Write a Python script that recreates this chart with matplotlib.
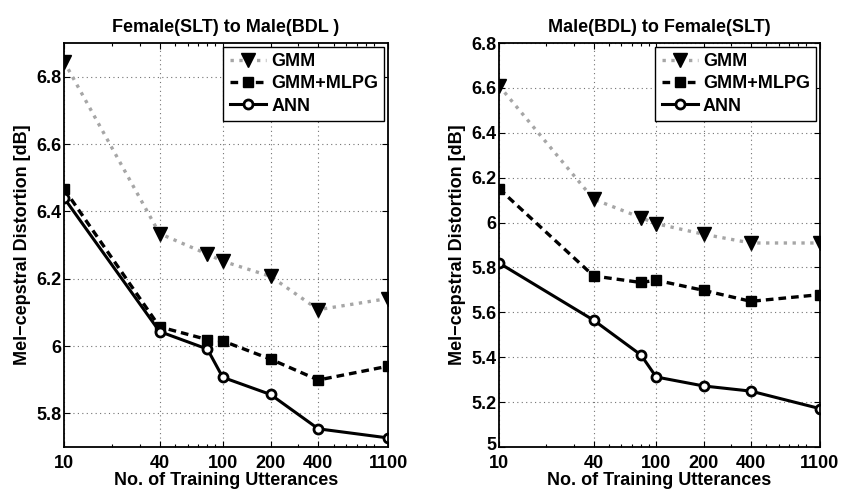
import matplotlib
matplotlib.use("Agg")
import matplotlib.pyplot as plt
from matplotlib.ticker import FixedLocator, NullFormatter, LogLocator, FormatStrFormatter
from matplotlib.transforms import ScaledTranslation

# number of training utterances
n_utt = [10, 40, 80, 100, 200, 400, 1100]
xtick_vals = [10, 40, 100, 200, 400, 1100]
xtick_labels = ["10", "40", "100", "200", "400", "1100"]

# Female(SLT) -> Male(BDL)
f2m_gmm = [6.845, 6.334, 6.273, 6.252, 6.207, 6.108, 6.141]
f2m_mlpg = [6.467, 6.057, 6.019, 6.015, 5.961, 5.899, 5.940]
f2m_ann = [6.440, 6.043, 5.991, 5.907, 5.856, 5.754, 5.727]

# Male(BDL) -> Female(SLT)
m2f_gmm = [6.610, 6.104, 6.022, 5.995, 5.948, 5.909, 5.909]
m2f_mlpg = [6.151, 5.762, 5.733, 5.743, 5.698, 5.649, 5.679]
m2f_ann = [5.820, 5.565, 5.410, 5.312, 5.272, 5.249, 5.171]

plt.rcParams["font.family"] = ["Liberation Sans", "DejaVu Sans"]
plt.rcParams["font.weight"] = "bold"
plt.rcParams["font.size"] = 13

fig = plt.figure(figsize=(8.41, 4.91), dpi=100)
ax1 = fig.add_axes([0.0761, 0.0896, 0.3853, 0.8228])
ax2 = fig.add_axes([0.5933, 0.0896, 0.3817, 0.8228])


def draw(ax, gmm, mlpg, ann, title, ylim, yticks):
    ax.plot(n_utt, gmm, linestyle=":", color="0.65", linewidth=2.4,
            marker="v", markersize=10, markerfacecolor="k", markeredgecolor="k",
            label="GMM")
    ax.plot(n_utt, mlpg, color="k", linewidth=2.4, dashes=(2.3, 1.5),
            marker="s", markersize=7.5, markerfacecolor="k", markeredgecolor="k",
            label="GMM+MLPG")
    ax.plot(n_utt, ann, color="k", linewidth=2.2, linestyle="-",
            marker="o", markersize=6.5, markerfacecolor="white", markeredgecolor="k",
            markeredgewidth=2.0, label="ANN")
    ax.set_xscale("log")
    ax.set_xlim(10, 1100)
    ax.set_ylim(*ylim)
    ax.xaxis.set_major_locator(FixedLocator(xtick_vals))
    ax.set_xticklabels(xtick_labels)
    ax.xaxis.set_minor_locator(LogLocator(base=10, subs=range(2, 10)))
    ax.xaxis.set_minor_formatter(NullFormatter())
    ax.set_yticks(yticks)
    ax.yaxis.set_major_formatter(FormatStrFormatter("%g"))
    ax.tick_params(which="both", direction="in", top=True, right=True,
                   labelsize=13)
    ax.tick_params(axis="y", pad=2)
    ax.tick_params(axis="x", pad=5.5)
    ax.tick_params(which="major", length=4, width=0.8)
    ax.tick_params(which="minor", length=2.5, width=0.8)
    ax.grid(True, which="major", linestyle=(0, (1, 3)), color="0.45", linewidth=0.8)
    for s in ax.spines.values():
        s.set_linewidth(1.3)
    ax.set_title(title, fontsize=13, fontweight="bold", pad=8)
    ax.set_xlabel("No. of Training Utterances", fontsize=13, fontweight="bold", labelpad=0)
    ax.set_ylabel("Mel\u2212cepstral Distortion [dB]", fontsize=13, fontweight="bold",
                  labelpad=4)
    leg = ax.legend(loc="upper right", fancybox=False, framealpha=1,
                    edgecolor="k", borderaxespad=0.2, handlelength=2.0,
                    handletextpad=0.3, labelspacing=0.3, fontsize=13,
                    borderpad=0.35)
    leg.get_frame().set_linewidth(1.0)


draw(ax1, f2m_gmm, f2m_mlpg, f2m_ann, "Female(SLT) to Male(BDL )",
     (5.7, 6.9), [5.8, 6.0, 6.2, 6.4, 6.6, 6.8])
draw(ax2, m2f_gmm, m2f_mlpg, m2f_ann, "Male(BDL) to Female(SLT)",
     (5.0, 6.8), [5.0, 5.2, 5.4, 5.6, 5.8, 6.0, 6.2, 6.4, 6.6, 6.8])

# nudge the bottom "5" label up a little so it clears the "10" below it
lbl = ax2.yaxis.get_major_ticks()[0].label1
lbl.set_transform(lbl.get_transform() + ScaledTranslation(0, 2.5 / 72, fig.dpi_scale_trans))

fig.savefig("out.png", dpi=100)
